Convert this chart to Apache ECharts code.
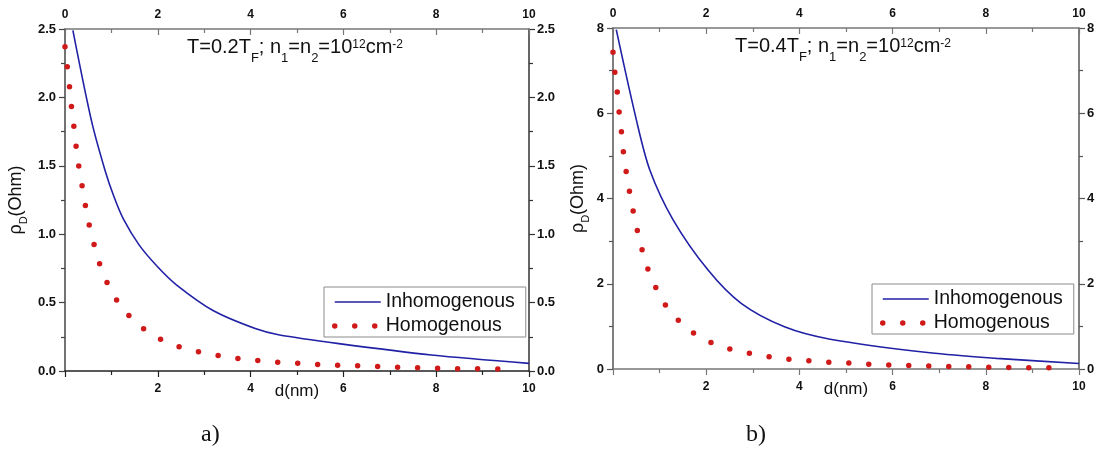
<!DOCTYPE html>
<html lang="en">
<head>
<meta charset="UTF-8">
<title>rho_D(d)</title>
<script src="https://cdn.jsdelivr.net/npm/echarts@6/dist/echarts.min.js"></script>
<style>
    html, body { margin: 0; padding: 0; background: #fff; }
    #main { width: 1102px; height: 456px; }
</style>
</head>
<body>
<div id="main"></div>
<script>
// ticks
var xTicks = [0, 2, 4, 6, 8, 10];
var yTicksA = [0, 0.5, 1.0, 1.5, 2.0, 2.5];
var yTicksB = [0, 2, 4, 6, 8];

// panel a)  T=0.2T_F
var dInhomA   = [0.17, 0.57, 0.86, 1.06, 1.26, 1.6, 2.0, 2.4, 3.2, 4.1, 4.6, 5.9, 7.9, 10];
var rhoInhomA = [2.49, 1.83, 1.47, 1.27, 1.11, 0.92, 0.76, 0.63, 0.44, 0.31, 0.265, 0.20, 0.117, 0.056];
var dHomA     = [0.0, 0.05, 0.10, 0.14, 0.19, 0.24, 0.30, 0.37, 0.44, 0.52, 0.63, 0.75, 0.93, 1.17, 1.54, 1.96,
                 2.39, 2.81, 3.24, 3.66, 4.09, 4.51, 4.96, 5.35, 5.78, 6.21, 6.64, 7.06, 7.49, 7.92, 8.34, 8.77, 9.19, 9.61];
var rhoHomA   = [2.37, 2.22, 2.07, 1.93, 1.79, 1.64, 1.49, 1.35, 1.21, 1.07, 0.92, 0.78, 0.63, 0.49, 0.35, 0.25,
                 0.185, 0.146, 0.117, 0.095, 0.078, 0.066, 0.057, 0.049, 0.044, 0.039, 0.034, 0.029, 0.025, 0.021, 0.018, 0.016, 0.015, 0.014];

// panel b)  T=0.4T_F
var dInhomB   = [0.07, 0.5, 0.79, 1.29, 2.04, 2.75, 3.68, 4.66, 6.8, 8.23, 10];
var rhoInhomB = [7.96, 5.85, 4.67, 3.5, 2.32, 1.54, 0.99, 0.70, 0.38, 0.25, 0.13];
var dHomB     = [0.0, 0.04, 0.09, 0.13, 0.18, 0.22, 0.28, 0.35, 0.43, 0.52, 0.62, 0.75, 0.93, 1.18, 1.56, 1.97,
                 2.40, 2.83, 3.25, 3.67, 4.11, 4.53, 4.96, 5.37, 5.80, 6.23, 6.66, 7.07, 7.50, 7.92, 8.35, 8.77, 9.19, 9.61];
var rhoHomB   = [7.43, 6.96, 6.51, 6.04, 5.57, 5.12, 4.65, 4.19, 3.72, 3.26, 2.81, 2.34, 1.885, 1.415, 0.98, 0.69,
                 0.50, 0.39, 0.305, 0.24, 0.20, 0.165, 0.15, 0.12, 0.10, 0.086, 0.077, 0.063, 0.054, 0.045, 0.038, 0.033, 0.029, 0.025];

var blue = '#2121a6';
var red = '#d01a1a';
var font = 'Arial, "Liberation Sans", sans-serif';

var blueLine = { color: blue, width: 1.6 };
var redDots = { color: red, width: 5.5, type: [0, 20], cap: 'round' };

function pairs(xs, ys) {
    return xs.map(function (x, i) { return [x, ys[i]]; });
}

function xAxisFor(grid, pos, col) {
    return {
        type: 'value', gridIndex: grid, position: pos,
        min: xTicks[0], max: xTicks[xTicks.length - 1], interval: xTicks[1] - xTicks[0],
        name: pos === 'bottom' ? 'd(nm)' : '',
        nameLocation: 'middle', nameGap: 12, nameMoveOverlap: false,
        nameTextStyle: { fontFamily: font, fontSize: 17, color: '#111' },
        axisLine: { show: true, onZero: false, lineStyle: { color: col, width: 1.5 } },
        axisTick: { show: true, inside: pos === 'top', length: 6, lineStyle: { color: col, width: 1.2 } },
        minorTick: { show: true, splitNumber: 2, length: 4, lineStyle: { color: col, width: 1.2 } },
        splitLine: { show: false },
        axisLabel: {
            fontFamily: font, fontWeight: 'bold', fontSize: 12, color: '#111', margin: pos === 'top' ? 8 : 12,
            formatter: function (v) { return (pos === 'bottom' && v === 0) ? '' : String(v); }
        }
    };
}

function yAxisFor(grid, pos, ticks, digits, col, gap) {
    return {
        type: 'value', gridIndex: grid, position: pos,
        min: ticks[0], max: ticks[ticks.length - 1], interval: ticks[1] - ticks[0],
        name: pos === 'left' ? '{r|ρ}{s|D}{r|(Ohm)}' : '',
        nameLocation: 'middle', nameGap: gap, nameRotate: 90, nameMoveOverlap: false,
        nameTextStyle: {
            color: '#111',
            rich: {
                r: { fontFamily: font, fontSize: 18, lineHeight: 26, color: '#111' },
                s: { fontFamily: font, fontSize: 11, lineHeight: 11, verticalAlign: 'bottom', color: '#111' }
            }
        },
        axisLine: { show: true, onZero: false, lineStyle: { color: col, width: 1.5 } },
        axisTick: { show: true, length: 6, lineStyle: { color: col, width: 1.2 } },
        minorTick: { show: true, splitNumber: 2, length: 4, lineStyle: { color: col, width: 1.2 } },
        splitLine: { show: false },
        axisLabel: {
            fontFamily: font, fontWeight: 'bold', fontSize: 13, color: '#111', margin: pos === 'left' ? 9 : 8,
            formatter: function (v) { return v.toFixed(digits); }
        }
    };
}

function inhom(xi, yi, xs, ys) {
    return {
        name: 'Inhomogenous', type: 'line', xAxisIndex: xi, yAxisIndex: yi,
        data: pairs(xs, ys), smooth: 0.3, symbol: 'none', clip: true,
        lineStyle: blueLine, itemStyle: { color: blue }
    };
}

function hom(xi, yi, xs, ys) {
    return {
        name: 'Homogenous', type: 'line', xAxisIndex: xi, yAxisIndex: yi,
        data: pairs(xs, ys), smooth: 0.3, symbol: 'none', clip: true,
        lineStyle: redDots, itemStyle: { color: red }
    };
}

function legendAt(left, top) {
    return {
        left: left, top: top, orient: 'vertical',
        data: [
            { name: 'Inhomogenous', itemStyle: { opacity: 0 }, lineStyle: blueLine },
            { name: 'Homogenous', itemStyle: { opacity: 0 }, lineStyle: redDots }
        ],
        itemWidth: 46, itemHeight: 14, itemGap: 4,
        padding: [5, 11, 1, 8],
        borderColor: '#8a8a8a', borderWidth: 1, backgroundColor: '#fff',
        textStyle: { fontFamily: font, fontSize: 19.5, color: '#111' },
        selectedMode: false
    };
}

var titleRich = {
    a: { fontFamily: font, fontSize: 20, lineHeight: 36, fill: '#111' },
    s: { fontFamily: font, fontSize: 13, lineHeight: 13, verticalAlign: 'bottom', fill: '#111' },
    p: { fontFamily: font, fontSize: 12, verticalAlign: 'top', padding: [10, 0, 0, 0], fill: '#111' }
};

function titleText(left, top, t) {
    return {
        type: 'text', left: left, top: top, silent: true,
        style: {
            text: '{a|T=' + t + 'T}{s|F}{a|; n}{s|1}{a|=n}{s|2}{a|=10}{p|12}{a|cm}{p|-2}',
            rich: titleRich
        }
    };
}

var chart = echarts.init(document.getElementById('main'));
var option = {
    animation: false,
    backgroundColor: '#fff',
    grid: [
        { left: 65, top: 29, width: 464, height: 342, outerBoundsMode: 'none' },
        { left: 613, top: 28, width: 466, height: 341, outerBoundsMode: 'none' }
    ],
    xAxis: [
        xAxisFor(0, 'bottom', '#222'),
        xAxisFor(0, 'top', '#777'),
        xAxisFor(1, 'bottom', '#777'),
        xAxisFor(1, 'top', '#777')
    ],
    yAxis: [
        yAxisFor(0, 'left', yTicksA, 1, '#444', 36),
        yAxisFor(0, 'right', yTicksA, 1, '#333', 0),
        yAxisFor(1, 'left', yTicksB, 0, '#555', 22),
        yAxisFor(1, 'right', yTicksB, 0, '#555', 0)
    ],
    legend: [legendAt(324, 287), legendAt(872, 284)],
    series: [
        inhom(0, 0, dInhomA, rhoInhomA),
        hom(0, 0, dHomA, rhoHomA),
        inhom(2, 2, dInhomB, rhoInhomB),
        hom(2, 2, dHomB, rhoHomB)
    ],
    graphic: [
        titleText(187, 37, '0.2'),
        titleText(735, 36, '0.4'),
        { type: 'text', left: 201, top: 423, silent: true,
          style: { text: 'a)', font: '24px "Liberation Serif", "Times New Roman", serif', fill: '#111' } },
        { type: 'text', left: 746, top: 423, silent: true,
          style: { text: 'b)', font: '24px "Liberation Serif", "Times New Roman", serif', fill: '#111' } }
    ]
};
chart.setOption(option);
</script>
</body>
</html>
